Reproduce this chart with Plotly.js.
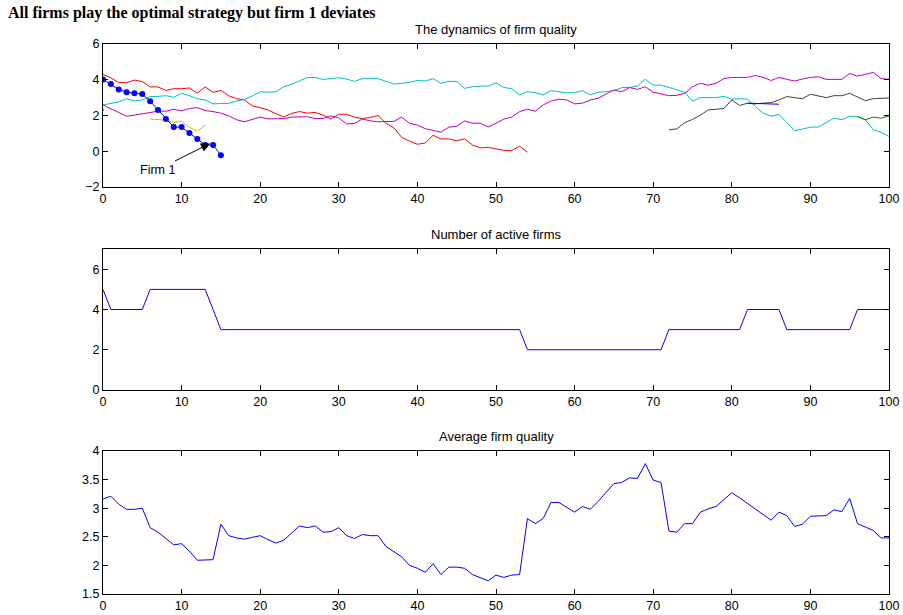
<!DOCTYPE html>
<html>
<head>
<meta charset="utf-8">
<script src="https://cdn.plot.ly/plotly-3.0.1.min.js"></script>
<style>html,body{margin:0;padding:0;background:#fff;}#chart{width:903px;height:615px;}</style>
</head>
<body>
<div id="chart"></div>
<script>
// ---- Data ----
const xFirm1 = [0,1,2,3,4,5,6,7,8,9,10,11,12,13,14,15];
const yFirm1 = [4.02,3.76,3.46,3.30,3.24,3.20,2.80,2.31,1.80,1.35,1.35,1.02,0.69,0.35,0.35,-0.22];

const xRed = [0,1,2,3,4,5,6,7,8,9,10,11,12,13,14,15,16,17,18,19,20,21,22,23,24,25,26,27,28,29,30,31,32,33,34,35,36,37,38,39,40,41,42,43,44,45,46,47,48,49,50,51,52,53,54];
const yRed = [4.30,4.10,3.85,3.83,3.98,3.90,3.60,3.60,3.40,3.50,3.50,3.54,3.25,3.60,3.30,3.40,3.10,2.94,2.87,2.54,2.44,2.31,2.10,1.92,2.12,2.22,2.13,2.17,2.02,1.80,2.07,2.07,1.90,1.83,1.89,2.00,1.57,1.31,0.78,0.56,0.39,0.46,0.89,0.69,0.69,0.59,0.69,0.35,0.19,0.22,0.13,0.05,0.04,0.28,-0.05];

const xCyan = [0,1,2,3,4,5,6,7,8,9,10,11,12,13,14,15,16,17,18,19,20,21,22,23,24,25,26,27,28,29,30,31,32,33,34,35,36,37,38,39,40,41,42,43,44,45,46,47,48,49,50,51,52,53,54,55,56,57,58,59,60,61,62,63,64,65,66,67,68,69,70,71,72,73,74,75,76,77,78,79,80,81,82,83,84,85,86,87,88,89,90,91,92,93,94,95,96,97,98,99,100];
const yCyan = [2.59,2.68,2.76,2.94,2.81,2.87,3.06,3.07,3.11,3.02,3.24,3.11,2.94,2.87,2.65,2.67,2.68,2.81,2.90,3.09,3.33,3.30,3.33,3.61,3.74,3.94,4.13,4.13,4.02,4.06,4.11,4.04,3.91,4.06,4.06,4.06,3.91,3.76,3.80,3.85,3.96,3.93,4.06,3.80,3.91,3.91,3.52,3.61,3.65,3.64,3.83,3.57,3.50,3.15,3.33,3.28,3.15,3.39,3.33,3.26,3.28,3.39,3.15,3.30,3.33,3.39,3.56,3.57,3.65,4.02,3.70,3.70,3.57,3.43,3.30,2.81,3.00,3.00,3.00,3.07,2.91,2.94,2.91,2.50,2.13,1.96,2.06,1.61,1.15,1.24,1.35,1.35,1.61,1.85,1.76,1.96,1.94,1.76,1.20,1.06,0.83];

const xMagenta = [0,1,2,3,4,5,6,7,8,9,10,11,12,13,14,15,16,17,18,19,20,21,22,23,24,25,26,27,28,29,30,31,32,33,34,35,36,37,38,39,40,41,42,43,44,45,46,47,48,49,50,51,52,53,54,55,56,57,58,59,60,61,62,63,64,65,66,67,68,69,70,71,72,73,74,75,76,77,78,79,80,81,82,83,84,85,86,87,88,89,90,91,92,93,94,95,96,97,98,99,100];
const yMagenta = [2.59,2.38,2.15,1.96,2.02,2.09,2.15,2.24,2.24,2.35,2.26,2.39,2.44,2.28,2.22,2.13,1.98,1.76,1.65,1.80,1.91,1.81,1.80,1.83,1.91,1.94,1.93,1.83,1.83,1.98,1.87,1.52,1.56,1.80,1.70,1.65,1.65,1.67,1.91,1.57,1.46,1.26,1.17,1.06,1.35,1.39,1.70,1.57,1.57,1.35,1.57,1.80,1.91,2.22,2.35,2.24,2.59,2.81,2.91,2.87,2.65,2.69,2.87,2.96,3.20,3.43,3.33,3.56,3.46,3.61,3.30,3.20,3.11,3.13,3.24,3.61,3.80,3.70,3.80,4.07,4.13,4.13,4.13,4.24,4.13,3.96,4.13,4.02,3.93,4.04,4.13,4.17,4.02,4.02,4.02,4.35,4.20,4.30,4.41,4.07,4.02];

const xYellow = [6,7,8,9,10,11,12,13];
const yYellow = [1.80,1.76,1.74,1.61,1.67,1.33,1.13,1.46];

const xBlack = [72,73,74,75,76,77,78,79,80,81,82,83,84,85,86,87,88,89,90,91,92,93,94,95,96,97,98,99,100];
const yBlack = [1.20,1.25,1.60,1.78,2.02,2.31,2.35,2.39,2.87,2.56,2.69,2.65,2.69,2.72,2.87,3.06,3.00,2.94,3.19,3.09,3.00,3.11,3.11,3.24,3.02,2.83,2.94,2.96,2.98];

const xBlue2 = [82,83,84,85,86];
const yBlue2 = [2.69,2.68,2.68,2.68,2.63];

const xGreenA = [0];
const yGreenA = [2.31];
const xGreenB = [96,97,98,99,100];
const yGreenB = [1.94,1.76,1.91,1.85,1.98];

const xSteps = [0,1,2,3,4,5,6,7,8,9,10,11,12,13,14,15,16,17,18,19,20,21,22,23,24,25,26,27,28,29,30,31,32,33,34,35,36,37,38,39,40,41,42,43,44,45,46,47,48,49,50,51,52,53,54,55,56,57,58,59,60,61,62,63,64,65,66,67,68,69,70,71,72,73,74,75,76,77,78,79,80,81,82,83,84,85,86,87,88,89,90,91,92,93,94,95,96,97,98,99,100];
const nActive = [5,4,4,4,4,4,5,5,5,5,5,5,5,5,4,3,3,3,3,3,3,3,3,3,3,3,3,3,3,3,3,3,3,3,3,3,3,3,3,3,3,3,3,3,3,3,3,3,3,3,3,3,3,3,2,2,2,2,2,2,2,2,2,2,2,2,2,2,2,2,2,2,3,3,3,3,3,3,3,3,3,3,4,4,4,4,4,3,3,3,3,3,3,3,3,3,4,4,4,4,4];

const avgQuality = [3.16,3.21,3.07,2.98,2.98,3.00,2.66,2.58,2.47,2.36,2.38,2.25,2.09,2.10,2.10,2.72,2.52,2.48,2.46,2.49,2.52,2.45,2.39,2.44,2.57,2.69,2.66,2.69,2.58,2.59,2.66,2.52,2.47,2.54,2.52,2.52,2.33,2.24,2.15,2.00,1.95,1.88,2.03,1.84,1.97,1.97,1.95,1.84,1.79,1.73,1.83,1.79,1.83,1.84,2.82,2.73,2.82,3.10,3.10,3.01,2.93,3.03,2.98,3.12,3.28,3.43,3.45,3.53,3.52,3.78,3.49,3.45,2.60,2.58,2.73,2.73,2.93,2.99,3.03,3.15,3.27,3.18,3.08,2.99,2.89,2.79,2.93,2.87,2.68,2.72,2.86,2.87,2.87,2.97,2.94,3.17,2.73,2.67,2.61,2.48,2.48];

const xTicks = [0,10,20,30,40,50,60,70,80,90,100];
const yTicksTop = [-2,0,2,4,6];
const yTicksMid = [0,2,4,6];
const yTicksBot = [1.5,2,2.5,3,3.5,4];

const mainTitle = 'All firms play the optimal strategy but firm 1 deviates';
const titleTop = 'The dynamics of firm quality';
const titleMid = 'Number of active firms';
const titleBot = 'Average firm quality';
const firmLabel = 'Firm 1';

// ---- Traces ----
function line(x, y, color, xa, ya, extra) {
  return Object.assign({x: x, y: y, type: 'scatter', mode: 'lines', xaxis: xa, yaxis: ya,
    line: {color: color, width: 1}, hoverinfo: 'skip', showlegend: false}, extra || {});
}
const traces = [
  line(xRed, yRed, '#ff0000', 'x', 'y'),
  line(xCyan, yCyan, '#00bfbf', 'x', 'y'),
  line(xMagenta, yMagenta, '#bf00bf', 'x', 'y'),
  line(xYellow, yYellow, '#bfbf00', 'x', 'y'),
  line(xBlack, yBlack, '#404040', 'x', 'y'),
  line(xBlue2, yBlue2, '#0000ff', 'x', 'y'),
  line(xGreenB, yGreenB, '#008000', 'x', 'y'),
  line(xGreenA, yGreenA, '#008000', 'x', 'y', {mode: 'markers', marker: {color: '#008000', size: 2}}),
  line(xFirm1, yFirm1, '#0000ff', 'x', 'y', {mode: 'lines+markers', marker: {color: '#0000ff', size: 6}}),
  line(xSteps, nActive, '#0000ff', 'x2', 'y2'),
  line(xSteps, avgQuality, '#0000ff', 'x3', 'y3')
];

const tickFont = {family: 'Liberation Sans, Arial, sans-serif', size: 12.5, color: '#000'};
function xax(anchor) {
  return {anchor: anchor, domain: [0, 1], range: [0, 100], tickvals: xTicks, ticks: 'inside', ticklen: 5,
    tickcolor: '#000', tickwidth: 1, mirror: 'ticks', showline: true, linecolor: '#000', linewidth: 1,
    showgrid: false, zeroline: false, tickfont: tickFont, fixedrange: true, ticklabelstandoff: 0};
}
function yax(anchor, dom, rng, tv) {
  return {anchor: anchor, domain: dom, range: rng, tickvals: tv, ticks: 'inside', ticklen: 5,
    tickcolor: '#000', tickwidth: 1, mirror: 'ticks', showline: true, linecolor: '#000', linewidth: 1,
    showgrid: false, zeroline: false, tickfont: tickFont, fixedrange: true};
}
const domTop = [0.740, 1];
const domMid = [0.371, 0.627];
const domBot = [0, 0.260];

const subFont = {family: 'Liberation Sans, Arial, sans-serif', size: 13, color: '#000'};
const layout = {
  width: 903, height: 615,
  margin: {l: 103, r: 14, t: 44, b: 21},
  paper_bgcolor: '#fff', plot_bgcolor: '#fff',
  showlegend: false,
  xaxis: xax('y'), yaxis: yax('x', domTop, [-2, 6], yTicksTop),
  xaxis2: xax('y2'), yaxis2: yax('x2', domMid, [0, 7], yTicksMid),
  xaxis3: xax('y3'), yaxis3: yax('x3', domBot, [1.5, 4], yTicksBot),
  annotations: [
    {text: '<b>' + mainTitle + '</b>', xref: 'paper', yref: 'paper', x: -0.1235, y: 1.056,
     xanchor: 'left', yanchor: 'middle', showarrow: false,
     font: {family: 'Liberation Serif, Times New Roman, serif', size: 16, color: '#000'}},
    {text: titleTop, xref: 'paper', yref: 'paper', x: 0.5, y: domTop[1], yanchor: 'bottom', yshift: 5,
     showarrow: false, font: subFont},
    {text: titleMid, xref: 'paper', yref: 'paper', x: 0.5, y: domMid[1], yanchor: 'bottom', yshift: 5,
     showarrow: false, font: subFont},
    {text: titleBot, xref: 'paper', yref: 'paper', x: 0.5, y: domBot[1], yanchor: 'bottom', yshift: 5,
     showarrow: false, font: subFont},
    {text: firmLabel, xref: 'x', yref: 'y', x: 13.6, y: 0.43, ax: -52, ay: 26,
     showarrow: true, arrowhead: 2, arrowsize: 1.8, arrowwidth: 1, arrowcolor: '#000',
     font: {family: 'Liberation Sans, Arial, sans-serif', size: 12.5, color: '#000'}}
  ]
};

Plotly.newPlot('chart', traces, layout, {staticPlot: true, displayModeBar: false});
</script>
</body>
</html>
